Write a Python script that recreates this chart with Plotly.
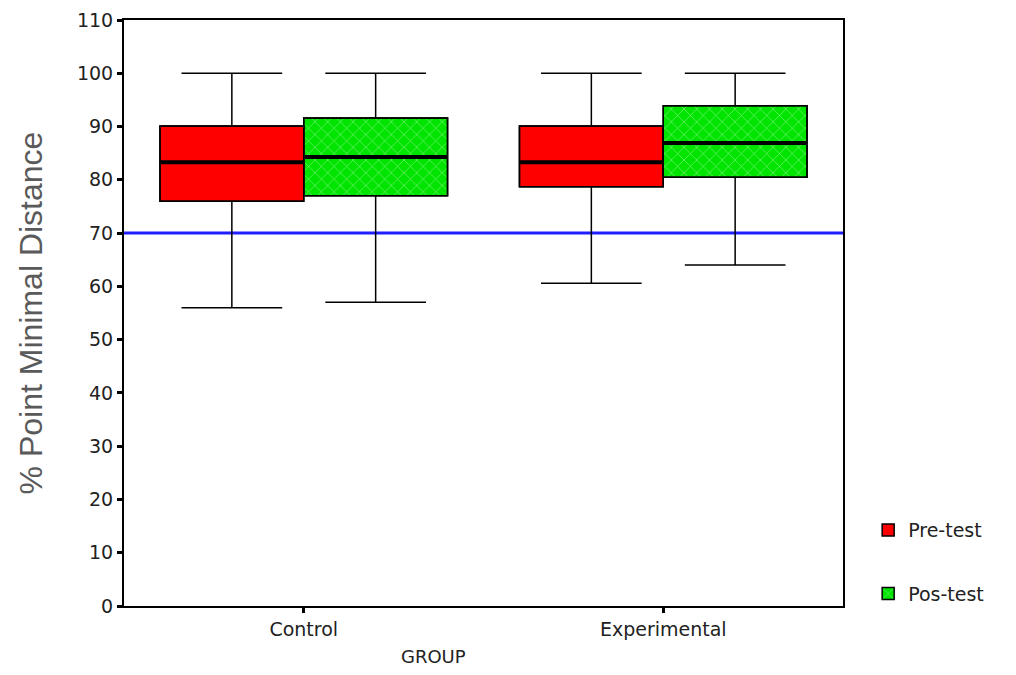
import plotly.graph_objects as go

# ---- data ----
groups = ["Control", "Experimental"]
series_names = ["Pre-test", "Pos-test"]

pre_lower = [56.0, 60.6]
pre_q1 = [76.0, 78.7]
pre_median = [83.3, 83.3]
pre_q3 = [90.1, 90.1]
pre_upper = [100.0, 100.0]

post_lower = [57.0, 64.0]
post_q1 = [77.0, 80.5]
post_median = [84.3, 86.9]
post_q3 = [91.6, 93.9]
post_upper = [100.0, 100.0]

reference_value = 70
y_ticks = list(range(0, 111, 10))

# ---- styling ----
BOX_W = 0.4
RED = "#ff0000"
GREEN = "#00e400"
TICK_FONT = "DejaVu Sans, Verdana, sans-serif"
TITLE_FONT = "Liberation Sans, Arial, sans-serif"

idx = list(range(len(groups)))
stats = [
    (series_names[0], -BOX_W / 2, pre_lower, pre_q1, pre_median, pre_q3, pre_upper, RED, None),
    (series_names[1], BOX_W / 2, post_lower, post_q1, post_median, post_q3, post_upper, GREEN,
     dict(shape="x", fgcolor="white", size=9, solidity=0.14, fillmode="overlay")),
]

fig = go.Figure()

for name, off, lo, q1, med, q3, up, color, pattern in stats:
    pos = [i + off for i in idx]
    marker = dict(color=color, line=dict(color="black", width=1.5))
    if pattern:
        marker["pattern"] = pattern
    # box body (interquartile range)
    fig.add_trace(go.Bar(
        x=pos, y=[b - a for a, b in zip(q1, q3)], base=q1, width=BOX_W,
        marker=marker, name=name, legendgroup=name, hoverinfo="skip",
    ))
    # whiskers and caps
    fig.add_trace(go.Box(
        x=pos, q1=q1, median=med, q3=q3, lowerfence=lo, upperfence=up,
        width=BOX_W, whiskerwidth=0.7, fillcolor="rgba(0,0,0,0)",
        line=dict(color="black", width=1.5), boxpoints=False,
        showlegend=False, hoverinfo="skip", name=name,
    ))
    # thick median line
    mx, my = [], []
    for p, m in zip(pos, med):
        mx += [p - BOX_W / 2, p + BOX_W / 2, None]
        my += [m, m, None]
    fig.add_trace(go.Scatter(
        x=mx, y=my, mode="lines", line=dict(color="black", width=4),
        showlegend=False, hoverinfo="skip",
    ))

fig.add_hline(y=reference_value, line=dict(color="#1f1fff", width=3), layer="below")

axis_common = dict(
    showline=True, linecolor="black", linewidth=2, mirror=True,
    ticks="outside", ticklen=5, tickwidth=3, tickcolor="black",
    showgrid=False, zeroline=False,
)

fig.update_layout(
    width=1000, height=659,
    margin=dict(l=116, r=165, t=12, b=61, autoexpand=False),
    paper_bgcolor="white", plot_bgcolor="white",
    barmode="overlay", boxmode="overlay",
    font=dict(family=TICK_FONT, color="#222"),
    xaxis=dict(
        range=[-0.5, 1.5], tickvals=idx, ticktext=groups,
        tickfont=dict(family=TICK_FONT, size=19, color="#222"), **axis_common,
    ),
    yaxis=dict(
        range=[0, 110], tickvals=y_ticks,
        tickfont=dict(family=TICK_FONT, size=19, color="#222"),
        title=dict(text="% Point Minimal Distance",
                   font=dict(family=TITLE_FONT, size=32, color="#5a5a5a"), standoff=25),
        **axis_common,
    ),
    legend=dict(
        x=1.035, y=0.162, xanchor="left", yanchor="top",
        font=dict(family=TICK_FONT, size=19, color="#222"), traceorder="grouped",
        tracegroupgap=36, bgcolor="rgba(0,0,0,0)",
    ),
    annotations=[dict(
        text="GROUP", xref="paper", yref="paper", x=0.43, y=-0.086,
        xanchor="center", yanchor="middle", showarrow=False,
        font=dict(family=TICK_FONT, size=18, color="#222"),
    )],
)

fig.write_html("out.html")
